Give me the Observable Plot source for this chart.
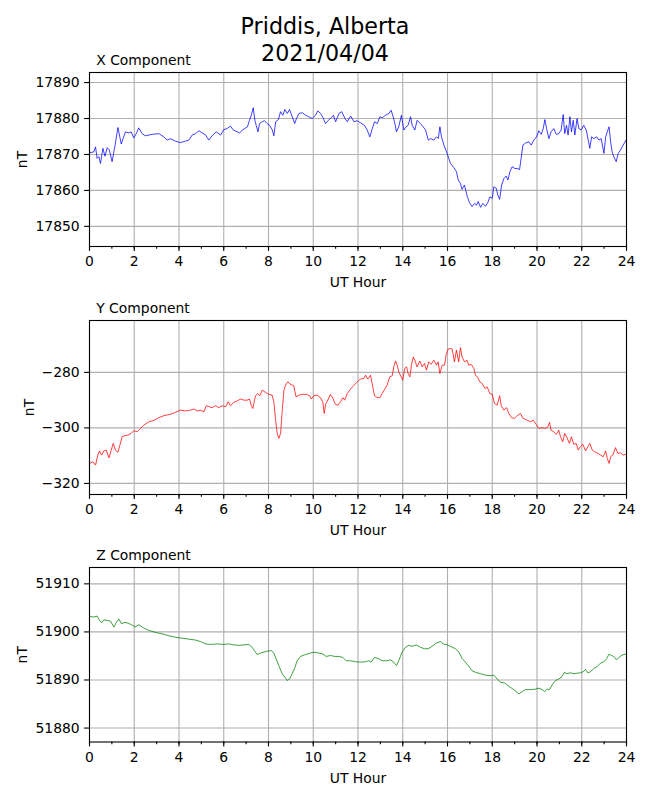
<!DOCTYPE html>
<html>
<head>
<meta charset="utf-8">
<script src="https://cdn.jsdelivr.net/npm/d3@7"></script>
<script src="https://cdn.jsdelivr.net/npm/@observablehq/plot@0.6"></script>
<style>
  body { margin: 0; background: white; }
  #wrap { position: relative; width: 650px; height: 800px; background: white; font-family: "DejaVu Sans", sans-serif; }
  #wrap > svg { position: absolute; left: 0; }
  #title { position: absolute; left: 0; top: 13.3px; width: 650px; text-align: center; font-size: 22.2px; line-height: 26.7px; color: black; }
</style>
</head>
<body>
<div id="wrap"></div>
<script>
const mainTitle = ["Priddis, Alberta", "2021/04/04"];
const panelTitles = ["X Component", "Y Component", "Z Component"];
const xAxisLabel = "UT Hour";
const yAxisLabel = "nT";
const hourTicks = [0, 2, 4, 6, 8, 10, 12, 14, 16, 18, 20, 22, 24];
const hourMinorTicks = [0, 1, 2, 3, 4, 5, 6, 7, 8, 9, 10, 11, 12, 13, 14, 15, 16, 17, 18, 19, 20, 21, 22, 23, 24];
const xTicksNT = [17850, 17860, 17870, 17880, 17890];
const yTicksNT = [-320, -300, -280];
const zTicksNT = [51880, 51890, 51900, 51910];

const hoursX = [0.00,0.19,0.27,0.34,0.42,0.49,0.60,0.69,0.79,0.89,1.01,1.13,1.27,1.42,1.50,1.61,1.76,1.86,1.98,2.09,2.20,2.35,2.50,2.80,3.10,3.32,3.47,3.62,3.84,4.06,4.29,4.44,4.59,4.74,4.89,5.04,5.19,5.33,5.48,5.66,5.86,6.00,6.15,6.30,6.41,6.53,6.71,6.86,7.06,7.15,7.23,7.32,7.39,7.45,7.53,7.60,7.72,7.82,7.94,8.05,8.17,8.24,8.32,8.44,8.54,8.64,8.73,8.84,8.94,9.06,9.17,9.25,9.36,9.51,9.66,9.80,9.95,10.10,10.20,10.33,10.43,10.55,10.67,10.82,10.90,11.00,11.15,11.27,11.42,11.52,11.67,11.82,11.96,12.11,12.29,12.41,12.53,12.64,12.74,12.86,12.98,13.08,13.23,13.38,13.48,13.57,13.65,13.72,13.82,13.94,14.05,14.15,14.24,14.35,14.42,14.54,14.64,14.79,14.91,15.02,15.14,15.24,15.39,15.51,15.59,15.66,15.73,15.84,15.96,16.06,16.13,16.28,16.40,16.48,16.58,16.65,16.76,16.88,16.98,17.10,17.21,17.30,17.37,17.48,17.58,17.70,17.80,17.89,18.00,18.07,18.18,18.25,18.33,18.42,18.52,18.62,18.70,18.79,18.89,19.01,19.11,19.22,19.29,19.37,19.49,19.64,19.74,19.86,19.98,20.08,20.19,20.28,20.35,20.43,20.53,20.63,20.75,20.86,20.97,21.08,21.17,21.24,21.32,21.39,21.47,21.54,21.62,21.69,21.79,21.87,21.97,22.09,22.20,22.29,22.36,22.44,22.54,22.66,22.77,22.87,22.99,23.07,23.14,23.22,23.29,23.36,23.43,23.54,23.63,23.73,23.85,23.98];
const valuesX = [17870.5,17870.7,17872.1,17868.9,17869.4,17867.5,17871.7,17869.5,17871.9,17871.2,17868.0,17872.1,17877.5,17872.9,17874.4,17876.3,17876.0,17876.3,17874.6,17875.8,17877.4,17875.8,17875.2,17875.6,17875.8,17874.9,17874.0,17874.4,17873.7,17873.3,17873.7,17874.0,17875.4,17875.8,17876.6,17876.0,17875.4,17874.0,17875.2,17876.3,17875.4,17876.9,17877.2,17877.9,17876.9,17876.5,17876.0,17876.9,17877.7,17879.5,17880.9,17883.0,17879.5,17878.1,17876.3,17878.6,17879.1,17879.4,17878.6,17878.1,17876.8,17875.2,17879.1,17879.7,17881.9,17880.9,17882.5,17881.4,17882.5,17880.5,17878.6,17880.0,17881.4,17881.6,17880.9,17880.5,17880.0,17880.9,17882.1,17881.4,17880.3,17878.6,17879.5,17880.3,17880.9,17879.1,17881.4,17881.9,17880.0,17879.1,17880.7,17879.1,17879.4,17878.8,17878.1,17876.8,17874.9,17877.2,17879.1,17878.6,17880.5,17880.2,17880.9,17881.4,17882.3,17880.5,17878.6,17876.3,17877.7,17880.9,17876.8,17877.7,17878.1,17880.5,17878.1,17876.8,17879.5,17878.6,17877.7,17876.8,17874.0,17874.4,17874.0,17874.9,17874.4,17877.7,17874.9,17872.6,17870.7,17868.9,17867.5,17866.4,17865.2,17862.9,17861.9,17860.3,17861.5,17858.4,17856.6,17855.5,17856.4,17855.9,17856.9,17855.3,17856.4,17855.6,17856.6,17858.2,17857.8,17861.0,17860.6,17858.7,17857.5,17861.5,17863.3,17864.0,17862.9,17865.2,17866.6,17866.1,17866.1,17865.8,17868.9,17872.6,17873.2,17873.5,17872.6,17874.0,17874.9,17876.6,17875.6,17877.2,17879.7,17877.2,17874.4,17876.3,17877.2,17875.6,17875.8,17876.8,17881.1,17875.8,17878.1,17875.4,17880.5,17876.3,17879.5,17875.4,17880.0,17877.2,17876.8,17878.1,17876.8,17874.0,17871.7,17874.9,17874.4,17874.9,17874.0,17874.4,17870.3,17874.9,17876.3,17877.7,17873.5,17870.7,17869.4,17868.0,17870.3,17871.2,17872.6,17874.0];

const hoursY = [0.00,0.15,0.27,0.37,0.45,0.54,0.64,0.75,0.87,0.97,1.06,1.16,1.27,1.36,1.46,1.58,1.71,1.86,1.98,2.13,2.28,2.43,2.65,2.88,3.10,3.32,3.62,3.84,4.06,4.29,4.51,4.66,4.81,4.96,5.11,5.22,5.36,5.48,5.63,5.78,5.93,6.08,6.20,6.30,6.45,6.60,6.75,6.90,7.05,7.15,7.23,7.30,7.36,7.42,7.52,7.61,7.72,7.87,8.01,8.16,8.24,8.31,8.39,8.46,8.54,8.61,8.69,8.76,8.86,8.98,9.13,9.23,9.36,9.51,9.69,9.84,9.91,10.03,10.17,10.32,10.43,10.49,10.55,10.65,10.77,10.88,10.99,11.10,11.22,11.32,11.41,11.52,11.67,11.82,11.97,12.11,12.26,12.34,12.44,12.56,12.63,12.74,12.86,12.98,13.08,13.20,13.30,13.42,13.53,13.60,13.68,13.75,13.82,13.93,14.00,14.09,14.17,14.24,14.32,14.39,14.47,14.54,14.64,14.76,14.87,14.97,15.06,15.16,15.27,15.39,15.51,15.58,15.66,15.76,15.87,15.94,16.03,16.13,16.21,16.31,16.40,16.50,16.58,16.65,16.76,16.87,16.95,17.06,17.18,17.25,17.36,17.44,17.55,17.67,17.77,17.89,18.00,18.10,18.22,18.33,18.40,18.52,18.64,18.74,18.86,18.99,19.11,19.26,19.38,19.56,19.71,19.83,19.96,20.08,20.23,20.38,20.49,20.56,20.63,20.75,20.87,20.97,21.05,21.15,21.24,21.34,21.45,21.54,21.64,21.75,21.84,21.94,22.05,22.17,22.27,22.36,22.47,22.57,22.69,22.84,22.96,23.07,23.14,23.22,23.29,23.39,23.51,23.61,23.73,23.85,23.98];
const valuesY = [-312.8,-312.2,-313.4,-309.8,-308.3,-309.8,-308.3,-308.0,-310.8,-308.0,-305.6,-308.0,-308.8,-306.2,-303.2,-302.8,-302.6,-302.0,-301.0,-301.4,-300.2,-299.0,-297.8,-297.3,-296.3,-295.6,-295.1,-294.4,-293.6,-293.9,-293.6,-293.2,-293.9,-293.6,-294.2,-292.0,-292.4,-292.7,-292.0,-292.7,-292.0,-292.4,-290.6,-292.0,-290.8,-290.3,-289.6,-290.0,-290.0,-289.6,-292.0,-293.0,-290.6,-288.4,-287.6,-288.4,-286.4,-287.2,-287.9,-288.2,-290.6,-296.6,-302.0,-303.8,-302.0,-294.2,-286.4,-284.6,-283.4,-284.3,-284.8,-288.8,-288.2,-287.9,-287.9,-288.4,-289.6,-288.4,-288.2,-289.1,-290.8,-294.8,-291.5,-290.0,-287.9,-289.4,-291.5,-291.8,-290.6,-289.1,-290.0,-287.6,-286.0,-284.6,-283.4,-282.4,-282.2,-281.0,-282.4,-281.0,-284.0,-288.4,-289.1,-289.1,-287.6,-286.0,-284.6,-281.6,-281.2,-278.0,-275.9,-277.4,-279.8,-281.6,-282.8,-278.6,-278.0,-280.4,-281.6,-277.4,-274.4,-275.6,-278.0,-275.9,-278.0,-276.8,-279.2,-276.2,-277.1,-275.6,-277.4,-276.2,-280.4,-277.4,-277.4,-273.5,-271.6,-271.4,-271.6,-276.2,-272.0,-276.2,-271.1,-274.4,-276.2,-275.6,-277.4,-277.1,-278.6,-281.0,-281.9,-283.4,-284.0,-285.8,-285.2,-287.6,-287.9,-291.2,-291.8,-288.4,-292.0,-293.6,-292.7,-294.8,-296.3,-296.6,-295.6,-294.8,-296.6,-297.2,-297.8,-297.2,-298.7,-300.2,-299.9,-300.2,-299.6,-298.0,-300.8,-301.4,-302.3,-300.8,-303.2,-305.0,-302.0,-303.5,-305.6,-303.2,-305.9,-305.6,-308.0,-306.8,-305.9,-308.3,-306.8,-305.6,-308.0,-308.6,-309.0,-309.8,-310.4,-308.3,-311.0,-312.8,-310.4,-309.8,-307.1,-309.2,-309.0,-309.8,-309.5];

const hoursZ = [0.00,0.19,0.34,0.45,0.54,0.64,0.79,0.94,1.09,1.19,1.31,1.43,1.58,1.73,1.88,2.03,2.20,2.43,2.65,2.95,3.25,3.55,3.84,4.14,4.44,4.74,4.96,5.19,5.41,5.71,6.00,6.23,6.45,6.67,6.90,7.12,7.27,7.37,7.49,7.64,7.79,7.94,8.13,8.24,8.34,8.46,8.61,8.73,8.83,8.94,9.06,9.18,9.28,9.43,9.66,9.88,10.03,10.25,10.43,10.58,10.77,10.96,11.14,11.32,11.47,11.67,11.89,12.11,12.33,12.48,12.59,12.74,12.89,13.08,13.30,13.45,13.60,13.72,13.82,13.97,14.12,14.27,14.42,14.61,14.79,14.97,15.14,15.31,15.51,15.69,15.81,15.99,16.13,16.36,16.51,16.65,16.80,16.96,17.10,17.25,17.48,17.70,17.92,18.07,18.22,18.37,18.55,18.74,18.96,19.19,19.34,19.49,19.71,19.93,20.08,20.23,20.34,20.46,20.56,20.68,20.83,20.97,21.12,21.22,21.34,21.49,21.64,21.79,21.94,22.06,22.17,22.27,22.39,22.54,22.69,22.84,22.99,23.11,23.22,23.32,23.43,23.55,23.66,23.81,23.98];
const valuesZ = [51903.2,51903.1,51903.3,51902.4,51901.9,51902.5,51902.4,51902.2,51901.0,51901.9,51902.7,51901.7,51902.0,51901.8,51901.5,51901.0,51901.5,51900.8,51900.3,51899.9,51899.6,51899.2,51898.9,51898.7,51898.5,51898.3,51898.0,51897.5,51897.4,51897.5,51897.4,51897.5,51897.3,51897.2,51897.3,51897.4,51896.8,51896.1,51895.3,51895.6,51895.8,51896.0,51896.1,51895.6,51894.4,51893.0,51891.3,51890.6,51889.9,51890.2,51891.3,51892.6,51894.0,51894.9,51895.3,51895.6,51895.8,51895.6,51895.4,51894.9,51895.1,51894.9,51894.9,51894.7,51894.0,51894.0,51893.8,51893.7,51893.8,51894.0,51893.7,51894.7,51894.5,51894.0,51894.0,51894.2,51893.7,51893.0,51894.0,51895.8,51896.8,51897.2,51897.0,51897.3,51896.8,51896.5,51896.5,51897.0,51897.7,51898.0,51897.5,51897.3,51897.0,51896.5,51895.8,51894.5,51893.7,51892.8,51891.9,51891.6,51891.3,51891.0,51890.9,51891.0,51890.2,51889.5,51889.4,51888.7,51888.0,51887.1,51887.6,51888.0,51888.0,51888.1,51888.3,51888.0,51887.6,51888.1,51888.0,51889.0,51889.9,51890.2,51890.7,51891.6,51891.3,51891.5,51891.3,51891.4,51891.5,51891.7,51892.2,51891.5,51891.7,51892.4,51892.8,51893.5,51893.8,51894.4,51895.4,51895.1,51894.9,51894.2,51894.7,51895.2,51895.4];

const wrap = document.getElementById("wrap");
const fmt = d3.format("d");

function panel(cfg) {
  const rows = cfg.hours.map((h, i) => ({h, v: cfg.values[i]}));
  const fr = {stroke: "#b0b0b0", strokeOpacity: 1, strokeWidth: 1.1};
  const svg = Plot.plot({
    width: 650,
    height: cfg.height,
    marginLeft: 89,
    marginRight: 24,
    marginTop: cfg.mt,
    marginBottom: cfg.mb,
    style: {fontFamily: "DejaVu Sans, sans-serif", fontSize: "13.9px", background: "transparent", color: "black", overflow: "visible"},
    x: {domain: [0, 24]},
    y: {domain: cfg.yDomain},
    marks: [
      Plot.gridX(hourTicks, fr),
      Plot.gridY(cfg.yTicks, fr),
      Plot.line(rows, {x: "h", y: "v", stroke: cfg.color, strokeWidth: 0.75}),
      Plot.frame({stroke: "black", strokeWidth: 1.1}),
      Plot.axisX(hourMinorTicks, {tickSize: 2.8, tickFormat: () => "", label: null, strokeWidth: 1.1}),
      Plot.axisX(hourTicks, {tickSize: 4.9, tickPadding: 4.9, tickFormat: fmt, label: null, strokeWidth: 1.1, fontSize: 13.9}),
      Plot.axisY(cfg.yTicks, {tickSize: 4.9, tickPadding: 4.9, tickFormat: fmt, label: null, strokeWidth: 1.1, fontSize: 13.9}),
      Plot.text([cfg.title], {text: d => d, frameAnchor: "top-left", textAnchor: "start", lineAnchor: "bottom", dx: 6.7, dy: -7.7, fontSize: 13.9}),
      Plot.text([xAxisLabel], {text: d => d, frameAnchor: "bottom", textAnchor: "middle", lineAnchor: "bottom", dy: 40.7, fontSize: 13.9}),
      Plot.text([yAxisLabel], {text: d => d, frameAnchor: "left", textAnchor: "middle", lineAnchor: "middle", rotate: -90, dx: cfg.nTx - 89, fontSize: 13.9})
    ]
  });
  svg.style.top = cfg.top + "px";
  wrap.appendChild(svg);
}

panel({hours: hoursX, values: valuesX, color: "#0000ff", yDomain: [17844.4, 17892.8], yTicks: xTicksNT, title: panelTitles[0], top: 0, height: 300, mt: 72, mb: 54, nTx: 22});
panel({hours: hoursY, values: valuesY, color: "#ff0000", yDomain: [-324, -261.3], yTicks: yTicksNT, title: panelTitles[1], top: 300, height: 250, mt: 20, mb: 56, nTx: 29});
panel({hours: hoursZ, values: valuesZ, color: "#008000", yDomain: [51877.1, 51913.4], yTicks: zTicksNT, title: panelTitles[2], top: 550, height: 250, mt: 17, mb: 58.5, nTx: 22});

const t = document.createElement("div");
t.id = "title";
t.innerHTML = mainTitle.join("<br>");
wrap.appendChild(t);
</script>
</body>
</html>
